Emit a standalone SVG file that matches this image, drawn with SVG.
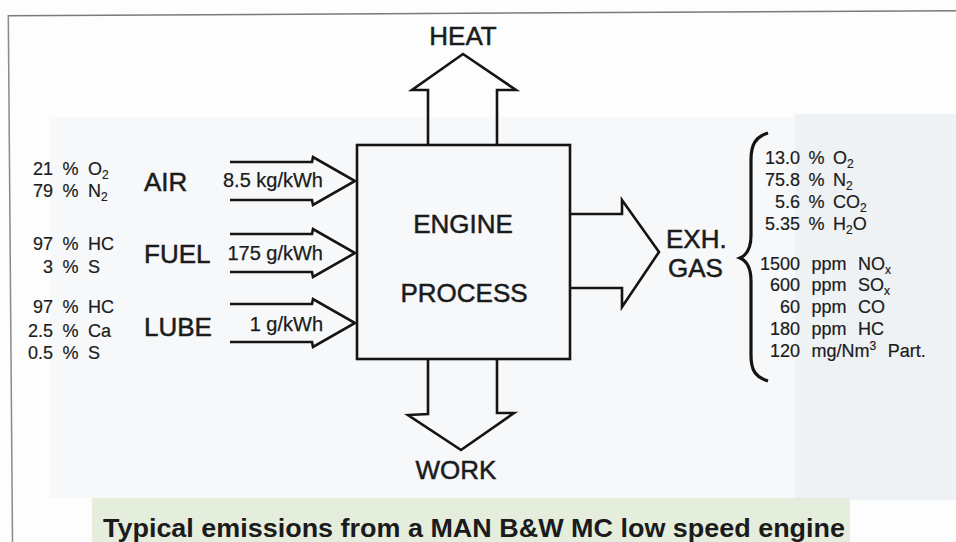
<svg xmlns="http://www.w3.org/2000/svg" width="956" height="542" viewBox="0 0 956 542">
<defs>
<style>
text{font-family:"Liberation Sans",Arial,sans-serif;fill:#1b1b1b}
.big{font-size:26px;stroke:#1b1b1b;stroke-width:0.5}
.flow{font-size:20px;stroke:#1b1b1b;stroke-width:0.25}
.s{font-size:18px;stroke:#1b1b1b;stroke-width:0.2}
.sub{font-size:12px}
.cap{font-size:25px;font-weight:bold}
.ln{fill:none;stroke:#141414;stroke-width:2.6;stroke-linejoin:miter;stroke-linecap:butt}
</style>
</defs>
<rect x="0" y="0" width="956" height="542" fill="#fdfdfd"/>
<rect x="50" y="117" width="745" height="381" fill="#f6f8fa"/>
<rect x="795" y="114" width="161" height="386" fill="#eff2f4"/>
<rect x="92" y="498" width="758" height="44" fill="#e5eddd"/>
<line x1="8" y1="15.7" x2="956" y2="10.7" stroke="#7a7a7a" stroke-width="1.5"/>
<line x1="8.3" y1="15" x2="12.5" y2="542" stroke="#8a8a8a" stroke-width="1.5"/>

<g id="engine">
<rect class="ln" x="357" y="145" width="213" height="214"/>
<text class="big" x="463" y="233" text-anchor="middle">ENGINE</text>
<text class="big" x="464" y="302" text-anchor="middle">PROCESS</text>
</g>

<g id="connectors">
<path id="heat-arrow" class="ln" d="M428,145 L428,90 L412,90 L463,54 L516,90 L497,90 L497,145"/>
<path id="work-arrow" class="ln" d="M428,359 L428,414 L408,415 L461,450 L514,413 L497,413 L497,359"/>
<path id="air-arrow" class="ln" d="M230,162 L312,162 L313,157 L355,181 L313,205 L312,200 L230,200"/>
<path id="fuel-arrow" class="ln" d="M230,234 L312,234 L313,229 L355,253 L313,277 L312,272 L230,272"/>
<path id="lube-arrow" class="ln" d="M230,304 L312,304 L313,299 L355,323 L313,347 L312,342 L230,342"/>
<path id="exh-arrow" class="ln" d="M570,214 L622,214 L622,200 L659,252 L622,307 L622,288 L570,288"/>
</g>

<g id="heat"><text class="big" x="463" y="45" text-anchor="middle">HEAT</text></g>
<g id="work"><text class="big" x="456" y="479" text-anchor="middle">WORK</text></g>

<g id="air">
<text class="big" x="144" y="191">AIR</text>
<text class="flow" x="323" y="187" text-anchor="end">8.5 kg/kWh</text>
<text class="s" x="33" y="175" word-spacing="4.5">21 % O<tspan class="sub" y="179">2</tspan></text>
<text class="s" x="33" y="197" word-spacing="4.5">79 % N<tspan class="sub" y="201">2</tspan></text>
</g>

<g id="fuel">
<text class="big" x="144" y="263">FUEL</text>
<text class="flow" x="323" y="260" text-anchor="end">175 g/kWh</text>
<text class="s" x="33" y="250" word-spacing="4.5">97 % HC</text>
<text class="s" x="43" y="273" word-spacing="4.5">3 % S</text>
</g>

<g id="lube">
<text class="big" x="144" y="336">LUBE</text>
<text class="flow" x="323" y="331" text-anchor="end">1 g/kWh</text>
<text class="s" x="33" y="313" word-spacing="4.5">97 % HC</text>
<text class="s" x="28" y="337" word-spacing="4.5">2.5 % Ca</text>
<text class="s" x="28" y="359" word-spacing="4.5">0.5 % S</text>
</g>

<g id="exhaust">
<text class="big" x="666" y="248">EXH.</text>
<text class="big" x="668" y="277">GAS</text>
<path d="M768,133 C755,137 751,145 751,160 L751,235 C751,248 747,255 740,258 C747,261 751,268 751,281 L751,355 C751,370 755,377 768,381" fill="none" stroke="#141414" stroke-width="3.2"/>
<text class="s" x="765" y="164" word-spacing="3.5">13.0 % O<tspan class="sub" y="168">2</tspan></text>
<text class="s" x="765" y="186" word-spacing="3.5">75.8 % N<tspan class="sub" y="190">2</tspan></text>
<text class="s" x="775" y="208" word-spacing="3.5">5.6 % CO<tspan class="sub" y="212">2</tspan></text>
<text class="s" x="765" y="230" word-spacing="3.5">5.35 % H<tspan class="sub" y="234">2</tspan><tspan y="230">O</tspan></text>
<text class="s" x="760" y="270" word-spacing="6.5">1500 ppm NO<tspan class="sub" y="274">x</tspan></text>
<text class="s" x="770" y="291" word-spacing="6.5">600 ppm SO<tspan class="sub" y="295">x</tspan></text>
<text class="s" x="780" y="313" word-spacing="6.5">60 ppm CO</text>
<text class="s" x="770" y="335" word-spacing="6.5">180 ppm HC</text>
<text class="s" x="770" y="357" word-spacing="6.5">120 mg/Nm<tspan class="sub" y="350">3</tspan><tspan y="357"> Part.</tspan></text>
</g>

<text class="cap" x="103" y="537" textLength="742" lengthAdjust="spacingAndGlyphs">Typical emissions from a MAN B&amp;W MC low speed engine</text>
</svg>
